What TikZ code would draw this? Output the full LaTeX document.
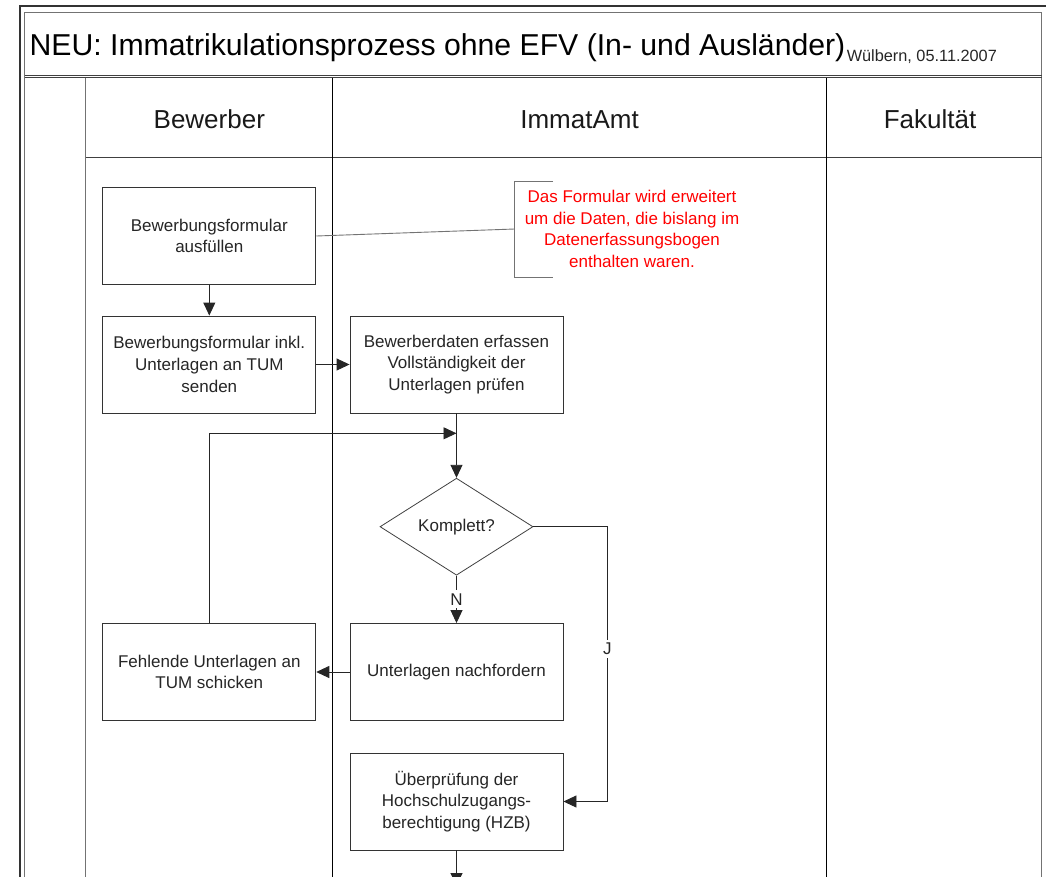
\documentclass[tikz,border=0pt]{standalone}
\usepackage{fontspec}
\setmainfont{Liberation Sans}
\usetikzlibrary{arrows.meta,shapes.geometric}
\begin{document}
\begin{tikzpicture}[x=1pt,y=-1pt,
  outerframe/.style={draw=black!80,line width=1.6pt},
  innerframe/.style={draw=black!55,line width=1pt},
  ruleline/.style={draw=black!75,line width=0.9pt},
  laneline/.style={draw=black,line width=1pt},
  proc/.style={draw=black!80,line width=0.9pt,fill=white,minimum width=213pt,minimum height=97pt,
    inner sep=0pt,align=center,text=black!85,font=\fontsize{17}{21.7}\selectfont},
  decision/.style={diamond,draw=black!75,line width=0.8pt,fill=white,minimum width=153pt,
    minimum height=97pt,inner sep=0pt,text=black!85,font=\fontsize{17}{21.7}\selectfont},
  flow/.style={draw=black!85,line width=0.9pt,-{Triangle[length=13pt,width=12pt]}},
  branch/.style={fill=white,inner sep=3pt,text=black!85,font=\fontsize{17}{20}\selectfont},
  noteline/.style={draw=black!55,line width=0.9pt},
  notetext/.style={align=center,text=red,inner sep=0pt,font=\fontsize{17}{21.7}\selectfont},
  lanehead/.style={anchor=base,inner sep=0pt,text=black!90,font=\fontsize{26}{30}\selectfont},
]
\useasboundingbox (0,0) rectangle (1046,876);
\clip (0,0) rectangle (1046,876);

% pool frame
\draw[outerframe] (20,880) -- (20,6) -- (1050,6);
\draw[innerframe] (24.7,880) -- (24.7,12.3) -- (1041.7,12.3) -- (1041.7,880);
\draw[ruleline] (24.7,75.3) -- (1041.7,75.3);
\draw[ruleline] (24.7,77.9) -- (1041.7,77.9);
\draw[innerframe] (85.8,77.9) -- (85.8,880);
\draw[ruleline] (85.8,157.3) -- (1041.7,157.3);
\draw[laneline] (332.8,77.9) -- (332.8,880);
\draw[laneline] (826.3,77.9) -- (826.3,880);

% title and date
\node[anchor=base west,inner sep=0pt,font=\fontsize{30.2}{36}\selectfont] (title) at (29.4,55)
  {NEU: Immatrikulationsprozess ohne EFV (In- und Ausländer)};
\path (title.base east) ++(1,6.7) node[anchor=base west,inner sep=0pt,text=black!85,
  font=\fontsize{16.3}{20}\selectfont] (date) {Wülbern, 05.11.2007};

% lane headers
\node[lanehead] (hb) at (209.3,128.3) {Bewerber};
\node[lanehead] (hi) at (579.5,128.3) {ImmatAmt};
\node[lanehead] (hf) at (930,128.3) {Fakultät};

% process steps
\node[proc] (b1) at (209.3,236) {Bewerbungsformular\\ausfüllen};
\node[proc] (b2) at (209.3,364.5) {Bewerbungsformular inkl.\\Unterlagen an TUM\\senden};
\node[proc] (b3) at (456.5,364.5) {Bewerberdaten erfassen\\Vollständigkeit der\\Unterlagen prüfen};
\node[decision] (d) at (456.5,526.7) {Komplett?};
\node[proc] (b4) at (456.5,672) {Unterlagen nachfordern};
\node[proc] (b5) at (209.3,672) {Fehlende Unterlagen an\\TUM schicken};
\node[proc] (b6) at (456.5,801.5) {Überprüfung der\\Hochschulzugangs-\\berechtigung (HZB)};

% helper points
\coordinate (merge) at (456.5,433.3);
\coordinate (jtop) at (607.3,526.7);
\coordinate (jbot) at (607.3,801.5);
\coordinate (out) at (456.5,886);
\coordinate (brm) at (514.7,229);
\coordinate (brt) at (514.7,181);
\coordinate (brb) at (514.7,277);

% connectors
\draw[flow] (b1) -- (b2);
\draw[flow] (b2) -- (b3);
\draw[flow] (b3) -- (d);
\draw[flow] (b5) |- (merge);
\draw[flow] (d) -- node[branch] {N} (b4);
\draw[flow] (d.east) -- (jtop) -- node[branch,pos=0.445] {J} (jbot) -- (b6.east);
\draw[flow] (b4) -- (b5);
\draw[flow] (b6) -- (out);

% annotation
\draw[noteline] (b1.east) -- (brm);
\draw[noteline] ([xshift=38.3pt]brt) -- (brt) -- (brb) -- ([xshift=38.3pt]brb);
\node[notetext] (note) at (632,229)
  {Das Formular wird erweitert\\um die Daten, die bislang im\\Datenerfassungsbogen\\enthalten waren.};
\end{tikzpicture}
\end{document}
